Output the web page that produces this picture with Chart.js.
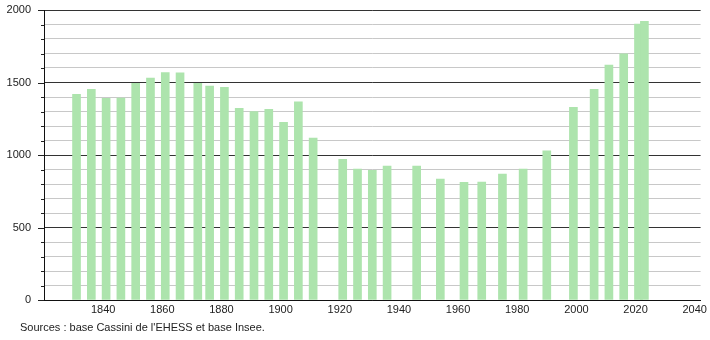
<!DOCTYPE html>
<html>
<head>
<meta charset="utf-8">
<script src="https://cdn.jsdelivr.net/npm/chart.js@4/dist/chart.umd.min.js"></script>
<style>
    html, body { margin: 0; padding: 0; background: #fff; }
    #wrap { width: 710px; height: 340px; }
</style>
</head>
<body>
<div id="wrap"><canvas id="popChart" width="710" height="340"></canvas></div>
<script>
// années de recensement
const annees = [1831, 1836, 1841, 1846, 1851, 1856, 1861, 1866, 1872, 1876,
                1881, 1886, 1891, 1896, 1901, 1906, 1911, 1921, 1926, 1931,
                1936, 1946, 1954, 1962, 1968, 1975, 1982, 1990, 1999, 2006,
                2011, 2016, 2021, 2023];
// population
const population = [1418, 1453, 1391, 1393, 1494, 1531, 1568, 1566, 1494, 1476,
                    1467, 1322, 1299, 1315, 1225, 1366, 1117, 970, 903, 894,
                    924, 924, 834, 811, 814, 869, 903, 1028, 1329, 1453,
                    1621, 1697, 1903, 1922];
const xTicks = [1840, 1860, 1880, 1900, 1920, 1940, 1960, 1980, 2000, 2020, 2040];
const yLabels = [0, 500, 1000, 1500, 2000];
const sourceText = "Sources : base Cassini de l'EHESS et base Insee.";

const police = '"Liberation Sans", Arial, sans-serif';

// petits traits à gauche de l'axe Y (longs tous les 500, courts tous les 100)
const yTickMarks = {
    id: 'yTickMarks',
    afterDraw(chart) {
        const ctx = chart.ctx;
        const y = chart.scales.y;
        const x0 = chart.chartArea.left;
        ctx.save();
        ctx.strokeStyle = '#222';
        ctx.lineWidth = 1;
        y.ticks.forEach(t => {
            const py = Math.round(y.getPixelForValue(t.value)) + 0.5;
            const len = yLabels.includes(t.value) ? 6 : 3;
            ctx.beginPath();
            ctx.moveTo(x0 - len, py);
            ctx.lineTo(x0, py);
            ctx.stroke();
        });
        ctx.restore();
    }
};

const sourceNote = {
    id: 'sourceNote',
    afterDraw(chart) {
        const ctx = chart.ctx;
        ctx.save();
        ctx.font = '11px ' + police;
        ctx.fillStyle = '#222';
        ctx.textBaseline = 'middle';
        ctx.fillText(sourceText, 20, 328);
        ctx.restore();
    }
};

new Chart(document.getElementById('popChart'), {
    type: 'bar',
    data: {
        datasets: [{
            data: annees.map((a, i) => ({ x: a, y: population[i] })),
            backgroundColor: '#ade4ad',
            borderWidth: 0,
            barThickness: 8
        }]
    },
    options: {
        responsive: false,
        animation: false,
        layout: { padding: { left: 0, right: 9, top: 0, bottom: 24 } },
        plugins: {
            legend: { display: false },
            tooltip: { enabled: false }
        },
        scales: {
            x: {
                type: 'linear',
                offset: false,
                min: 1820,
                max: 2042,
                afterBuildTicks: scale => { scale.ticks = xTicks.map(v => ({ value: v })); },
                afterFit: scale => { scale.height = 16; },
                grid: { display: false, drawTicks: false, offset: false },
                border: { display: true, color: '#111', width: 1 },
                ticks: {
                    color: '#222',
                    font: { family: police, size: 11 },
                    padding: 3,
                    maxRotation: 0,
                    autoSkip: false,
                    callback: v => String(v)
                }
            },
            y: {
                min: 0,
                max: 2000,
                afterFit: scale => {
                    scale.width = 44;
                    scale.paddingTop = 10;
                    scale.paddingBottom = 0;
                },
                grid: {
                    drawTicks: false,
                    color: c => (c.tick && c.tick.value % 500 === 0) ? '#333' : '#c8c8c8',
                    lineWidth: 1
                },
                border: { display: true, color: '#111', width: 1 },
                ticks: {
                    stepSize: 100,
                    autoSkip: false,
                    color: '#222',
                    font: { family: police, size: 11 },
                    padding: 13,
                    callback: v => yLabels.includes(v) ? String(v) : ''
                }
            }
        }
    },
    plugins: [yTickMarks, sourceNote]
});
</script>
</body>
</html>
